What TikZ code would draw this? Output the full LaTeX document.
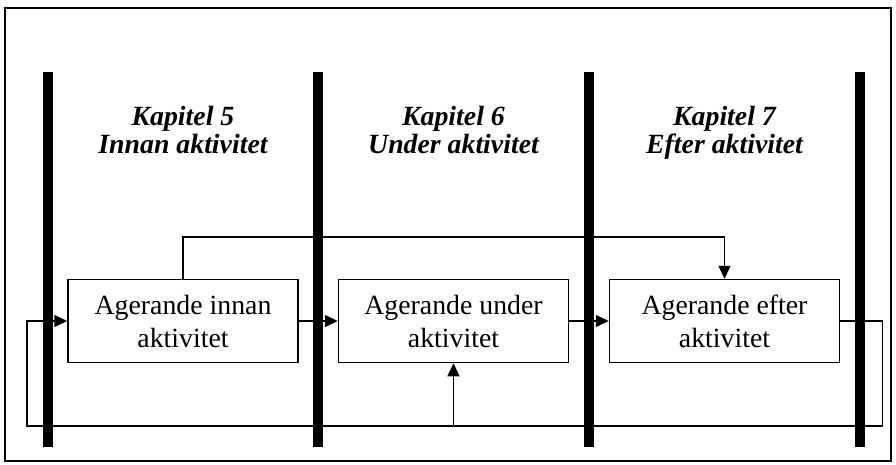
\documentclass[tikz,border=0pt]{standalone}
\usepackage{fontspec}
\setmainfont{Liberation Serif}
\usetikzlibrary{arrows.meta, positioning, calc}

\tikzset{
  ruta/.style={draw, line width=1.5pt, minimum width=230pt, minimum height=83pt,
    inner sep=0pt, align=center, font=\fontsize{27.8pt}{33pt}\selectfont},
  rubrik/.style={align=center, inner sep=0pt, text depth=0pt,
    font=\fontsize{27.8pt}{28pt}\selectfont\bfseries\itshape},
  balk/.style={line width=10pt},
  pil/.style={line width=1.5pt, -{Triangle[length=13pt, width=12pt]}},
  linje/.style={line width=1.5pt}
}

\begin{document}
\begin{tikzpicture}[x=1pt, y=-1pt]
  \useasboundingbox (0,0) rectangle (896,464);

  % Ram
  \draw[line width=2pt] (5,8) rectangle (891,461);

  % Balkar
  \foreach \bx in {48, 318, 589, 860}
    \draw[balk] (\bx,72) -- (\bx,447);

  % Rubriker
  \node[rubrik] (rub5) at (183,130) {Kapitel 5\\Innan aktivitet};
  \node[rubrik] (rub6) at (453.5,130) {Kapitel 6\\Under aktivitet};
  \node[rubrik] (rub7) at (724.5,130) {Kapitel 7\\Efter aktivitet};

  % Rutor
  \node[ruta] (innan) at (183,321) {Agerande innan\\aktivitet};
  \node[ruta] (under) at (453.5,321) {Agerande under\\aktivitet};
  \node[ruta] (efter) at (724.5,321) {Agerande efter\\aktivitet};

  % Pilar mellan rutorna
  \draw[pil] (innan.east) -- (under.west);
  \draw[pil] (under.east) -- (efter.west);

  % Hopp innan -> efter
  \draw[pil] (innan.north) -- ++(0,-42) -| (efter.north);

  % Aterkoppling
  \coordinate (slingaV) at (27,426);
  \draw[pil] (efter.east) -- ++(42,0) |- (slingaV) |- (innan.west);
  \draw[pil] (under.south |- slingaV) -- (under.south);
\end{tikzpicture}
\end{document}
